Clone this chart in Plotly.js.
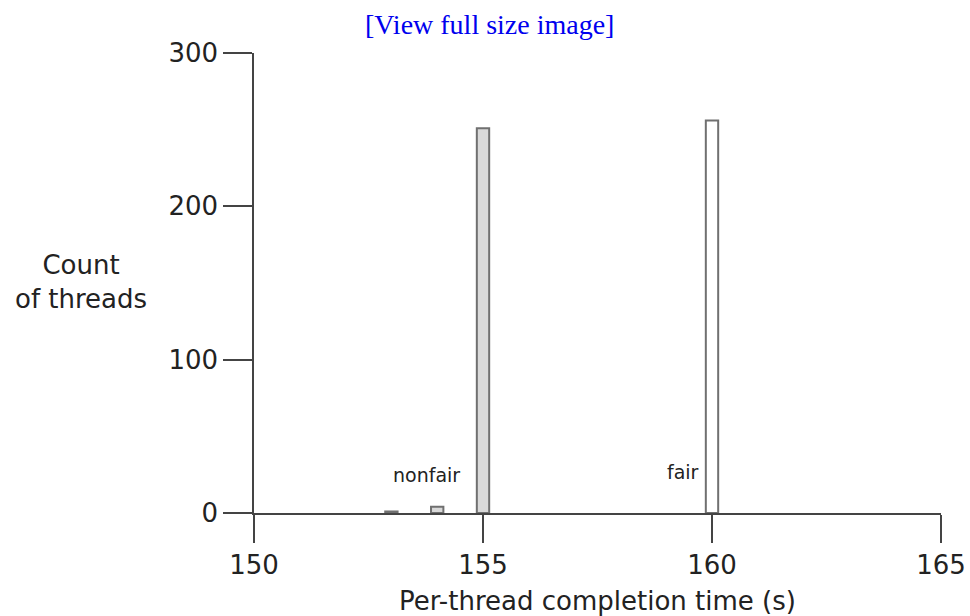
<!DOCTYPE html>
<html>
<head>
<meta charset="utf-8">
<script src="https://cdn.plot.ly/plotly-3.0.1.min.js"></script>
<style>
html,body{margin:0;padding:0;background:#fff;}
#chart{width:970px;height:616px;}
</style>
</head>
<body>
<div id="chart"></div>
<script>
const nonfairTimes = [153, 154, 155];
const nonfairCounts = [1, 4, 251];
const fairTimes = [160];
const fairCounts = [256];
const xTicks = [150, 155, 160, 165];
const yTicks = [0, 100, 200, 300];

const font = "'DejaVu Sans', 'Open Sans', sans-serif";
const textColor = '#222';
const axisColor = '#444';

const traces = [
  {
    type: 'bar', name: 'nonfair', x: nonfairTimes, y: nonfairCounts, width: 0.27,
    marker: {color: '#d9d9d9', line: {color: '#707070', width: 2}}, hoverinfo: 'x+y'
  },
  {
    type: 'bar', name: 'fair', x: fairTimes, y: fairCounts, width: 0.27,
    marker: {color: '#ffffff', line: {color: '#707070', width: 2}}, hoverinfo: 'x+y'
  }
];

const layout = {
  width: 970, height: 616,
  margin: {l: 254, r: 29, t: 53, b: 103},
  paper_bgcolor: '#fff', plot_bgcolor: '#fff',
  showlegend: false,
  barmode: 'overlay',
  font: {family: font, color: textColor},
  xaxis: {
    range: [150, 165], tickvals: xTicks, ticktext: xTicks.map(String),
    showgrid: false, zeroline: false, showline: true, linecolor: axisColor, linewidth: 1.5,
    ticks: 'outside', ticklen: 28, tickwidth: 1.5, tickcolor: axisColor,
    tickfont: {size: 26, family: font, color: textColor},
    title: {text: 'Per-thread completion time (s)', font: {size: 26, family: font, color: textColor}, standoff: 14}
  },
  yaxis: {
    range: [0, 300], tickvals: yTicks, ticktext: yTicks.map(String),
    showgrid: false, zeroline: false, showline: true, linecolor: axisColor, linewidth: 1.5,
    ticks: 'outside', ticklen: 29, tickwidth: 1.5, tickcolor: axisColor,
    tickfont: {size: 26, family: font, color: textColor}
  },
  annotations: [
    {xref: 'paper', yref: 'paper', x: -0.252, y: 0.503, xanchor: 'center', yanchor: 'middle',
     text: 'Count<br>of threads', showarrow: false, align: 'center',
     font: {size: 26, family: font, color: textColor}},
    {xref: 'x', yref: 'y', x: 153.76, y: 25, text: 'nonfair', showarrow: false,
     font: {size: 19, family: font, color: textColor}},
    {xref: 'x', yref: 'y', x: 159.37, y: 27, text: 'fair', showarrow: false,
     font: {size: 19, family: font, color: textColor}},
    {xref: 'paper', yref: 'paper', x: 0.5, y: 1.063, xanchor: 'center', yanchor: 'middle',
     xshift: -108, text: '[View full size image]', showarrow: false,
     font: {size: 28, family: "'Liberation Serif', 'Times New Roman', serif", color: '#0000ee'}}
  ]
};

Plotly.newPlot('chart', traces, layout, {displayModeBar: false, responsive: false});
</script>
</body>
</html>
